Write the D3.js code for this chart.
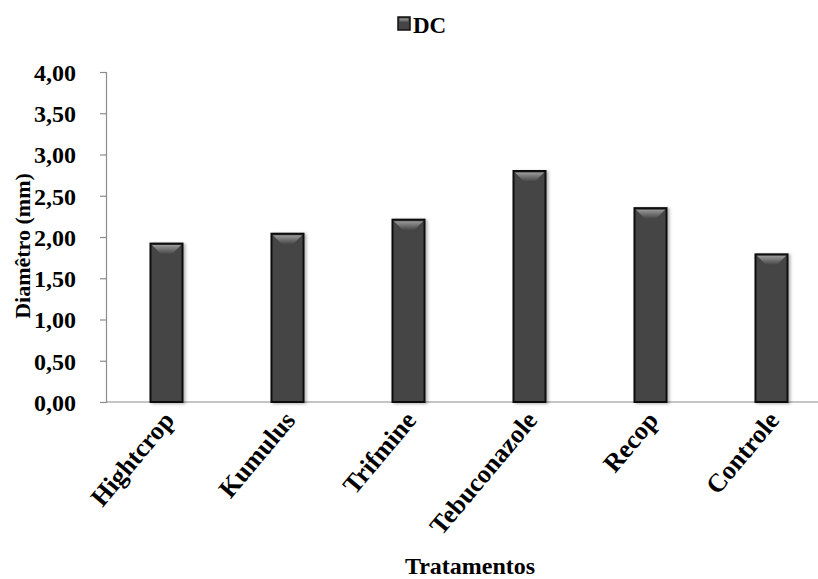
<!DOCTYPE html>
<html>
<head>
<meta charset="utf-8">
<script src="https://cdn.jsdelivr.net/npm/d3@7/dist/d3.min.js"></script>
<style>
  html, body { margin: 0; padding: 0; background: #fff; }
  text { font-family: "Liberation Serif", "Times New Roman", serif; font-weight: bold; fill: #000; }
</style>
</head>
<body>
<svg id="chart" width="818" height="579"></svg>
<script>
// Diameter by treatment
const categories = ["Hightcrop", "Kumulus", "Trifmine", "Tebuconazole", "Recop", "Controle"];
const seriesName = "DC";
const values = [1.92, 2.04, 2.21, 2.80, 2.35, 1.79];
const yTicks = [0, 0.5, 1, 1.5, 2, 2.5, 3, 3.5, 4];
const yTitle = "Diamêtro (mm)";
const xTitle = "Tratamentos";

const svg = d3.select("#chart");

const x = d3.scaleBand().domain(categories).range([106, 832]).paddingInner(0.735).paddingOuter(0.3675);
const y = d3.scaleLinear().domain([0, 4]).range([402, 72]);

const defs = svg.append("defs");
const bevel = defs.append("linearGradient").attr("id", "bevel").attr("x1", 0).attr("y1", 0).attr("x2", 0).attr("y2", 1);
bevel.append("stop").attr("offset", "0%").attr("stop-color", "#9a9a9a");
bevel.append("stop").attr("offset", "100%").attr("stop-color", "#454545");
const shadow = defs.append("filter").attr("id", "shadow").attr("x", "-30%").attr("y", "-10%").attr("width", "160%").attr("height", "120%");
shadow.append("feDropShadow").attr("dx", 2).attr("dy", 1).attr("stdDeviation", 1.5).attr("flood-color", "#000").attr("flood-opacity", 0.3);

// Y axis
const yAxis = svg.append("g").attr("transform", "translate(106,0)")
  .call(d3.axisLeft(y).tickValues(yTicks).tickSize(6).tickPadding(24)
    .tickFormat(d => d3.format(".2f")(d).replace(".", ",")));
yAxis.select(".domain").attr("stroke", "#8c8c8c").attr("stroke-width", 1.2);
yAxis.selectAll(".tick line").attr("stroke", "#8c8c8c").attr("stroke-width", 1.2);
yAxis.selectAll(".tick text")
  .attr("font-size", 24).attr("font-family", "Liberation Serif").attr("font-weight", "bold")
  .attr("fill", "#000").attr("dy", "0.35em");

// X axis baseline
svg.append("line").attr("x1", 106).attr("x2", 832).attr("y1", y(0)).attr("y2", y(0))
  .attr("stroke", "#8c8c8c").attr("stroke-width", 1.2);

// Bars
const bars = svg.append("g").selectAll("g").data(categories).join("g");
bars.append("rect")
  .attr("x", d => x(d)).attr("width", x.bandwidth())
  .attr("y", (d, i) => y(values[i])).attr("height", (d, i) => y(0) - y(values[i]))
  .attr("fill", "#454545").attr("stroke", "#111").attr("stroke-width", 2)
  .attr("filter", "url(#shadow)");
bars.append("path")
  .attr("d", (d, i) => {
    const x0 = x(d) + 1.5, x1 = x(d) + x.bandwidth() - 1.5, t = y(values[i]) + 1.5;
    return `M${x0},${t}L${x1},${t}L${x1 - 9},${t + 9}L${x0 + 9},${t + 9}Z`;
  })
  .attr("fill", "url(#bevel)");

// Category labels, slanted
svg.append("g").selectAll("text").data(categories).join("text")
  .attr("transform", d => `translate(${x(d) + x.bandwidth() / 2 + 9},${421}) rotate(-50)`)
  .attr("text-anchor", "end").attr("font-size", 26)
  .text(d => d);

// Axis titles
svg.append("text")
  .attr("transform", `translate(30,246) rotate(-90)`)
  .attr("text-anchor", "middle").attr("font-size", 22).text(yTitle);
svg.append("text")
  .attr("transform", `translate(470,574)`)
  .attr("text-anchor", "middle").attr("font-size", 24).text(xTitle);

// Legend
const lg = svg.append("g");
lg.append("rect").attr("x", 398).attr("y", 17).attr("width", 12).attr("height", 13)
  .attr("fill", "#454545").attr("stroke", "#111").attr("stroke-width", 1.5);
lg.append("rect").attr("x", 399.5).attr("y", 18.5).attr("width", 9).attr("height", 4).attr("fill", "url(#bevel)");
lg.append("text").attr("transform", "translate(413,33)")
  .attr("font-size", 23).text(seriesName);
</script>
</body>
</html>
